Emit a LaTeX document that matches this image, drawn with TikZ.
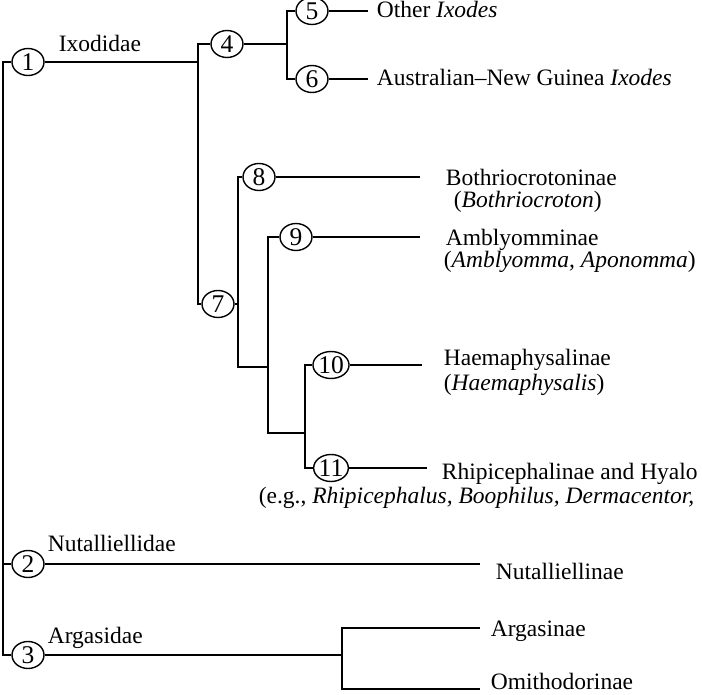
\documentclass[tikz,border=0pt]{standalone}
\usepackage{fontspec}
\setmainfont{Liberation Serif}
\usetikzlibrary{shapes.geometric}

\tikzset{
  ncirc/.style={draw, ellipse, minimum width=32pt, minimum height=27pt,
    inner sep=0pt, line width=1.4pt, fill=white, font=\fontsize{25.5}{28}\selectfont},
  lbl/.style={anchor=base west, inner sep=0pt},
}

\begin{document}
\begin{tikzpicture}[x=1pt, y=-1pt, line width=1.7pt, font=\fontsize{23.5}{28}\selectfont]
    \useasboundingbox (0,0) rectangle (702,695);

    % numbered nodes
    \node[ncirc] (n1)  at (28,62)   {1};
    \node[ncirc] (n2)  at (28,564)  {2};
    \node[ncirc] (n3)  at (28,655)  {3};
    \node[ncirc] (n4)  at (227,44)  {4};
    \node[ncirc] (n5)  at (312,11)  {5};
    \node[ncirc] (n6)  at (312,79)  {6};
    \node[ncirc] (n7)  at (218,304) {7};
    \node[ncirc] (n8)  at (259,177) {8};
    \node[ncirc] (n9)  at (296,237) {9};
    \node[ncirc] (n10) at (331,365) {10};
    \node[ncirc] (n11) at (331,468) {11};

    % junctions and branch ends
    \coordinate (root) at (3,62);
    \coordinate (j1) at (198,62);
    \coordinate (j4) at (287,44);
    \coordinate (j7) at (238,304);
    \coordinate (j7b) at (238,367);
    \coordinate (j9) at (268,367);
    \coordinate (j9b) at (268,433);
    \coordinate (j10) at (305,433);
    \coordinate (j3) at (342,655);
    \coordinate (e5) at (368,11);
    \coordinate (e6) at (368,79);
    \coordinate (e8) at (420,177);
    \coordinate (e9) at (420,237);
    \coordinate (e10) at (422,365);
    \coordinate (e11) at (427,468);
    \coordinate (e2) at (480,564);
    \coordinate (eArg) at (480,628);
    \coordinate (eOmi) at (480,689);

    % branches
    \draw (n1) -- (root) |- (n2);
    \draw (root) |- (n3);
    \draw (n1) -- (j1) |- (n4);
    \draw (j1) |- (n7);
    \draw (n4) -- (j4) |- (n5);
    \draw (j4) |- (n6);
    \draw (n5) -- (e5);
    \draw (n6) -- (e6);
    \draw (n7) -- (j7) |- (n8);
    \draw (j7) -- (j7b) -- (j9);
    \draw (j9) |- (n9);
    \draw (j9) -- (j9b) -- (j10);
    \draw (j10) |- (n10);
    \draw (j10) |- (n11);
    \draw (n8) -- (e8);
    \draw (n9) -- (e9);
    \draw (n10) -- (e10);
    \draw (n11) -- (e11);
    \draw (n2) -- (e2);
    \draw (n3) -- (j3) |- (eArg);
    \draw (j3) |- (eOmi);

    % labels
    \node[lbl] (ixo)  at (58,52)   {Ixodidae};
    \node[lbl] (nuta) at (47,551)  {Nutalliellidae};
    \node[lbl] (arga) at (47,643)  {Argasidae};
    \node[lbl] (t5)   at (376,18)  {Other \textit{Ixodes}};
    \node[lbl] (t6)   at (376,86)  {Australian--New Guinea \textit{Ixodes}};
    \node[lbl] (t8)   at (445,186) {Bothriocrotoninae};
    \node[lbl] (t8b)  at (453,208) {(\textit{Bothriocroton})};
    \node[lbl] (t9)   at (445,246) {Amblyomminae};
    \node[lbl] (t9b)  at (443,268) {(\textit{Amblyomma, Aponomma})};
    \node[lbl] (t10)  at (443,366) {Haemaphysalinae};
    \node[lbl] (t10b) at (443,390) {(\textit{Haemaphysalis})};
    \node[lbl] (t11)  at (441,479) {Rhipicephalinae and Hyalo};
    \node[lbl] (t11b) at (258,503) {(e.g., \textit{Rhipicephalus, Boophilus, Dermacentor,}};
    \node[lbl] (t2)   at (495,579) {Nutalliellinae};
    \node[lbl] (tArg) at (490,636) {Argasinae};
    \node[lbl] (tOmi) at (490,689) {Omithodorinae};
\end{tikzpicture}
\end{document}
